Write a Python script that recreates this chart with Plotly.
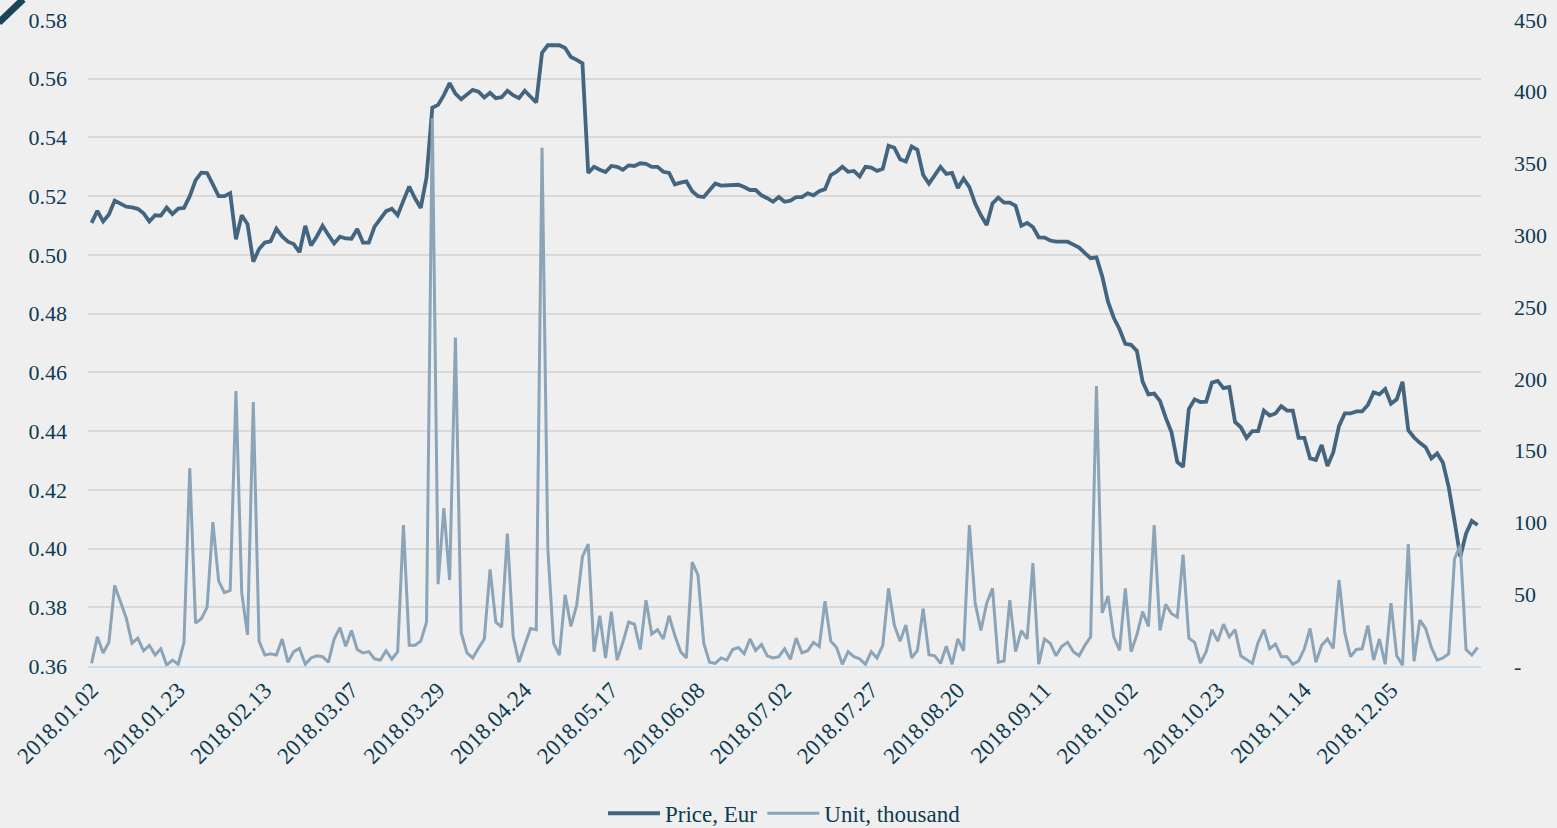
import plotly.graph_objects as go

tick_labels = ["2018.01.02", "2018.01.23", "2018.02.13", "2018.03.07", "2018.03.29",
               "2018.04.24", "2018.05.17", "2018.06.08", "2018.07.02", "2018.07.27",
               "2018.08.20", "2018.09.11", "2018.10.02", "2018.10.23", "2018.11.14",
               "2018.12.05"]

price_eur = [
    0.5109, 0.5150, 0.5114, 0.5138, 0.5185, 0.5175, 0.5164, 0.5162, 0.5157, 0.5142,
    0.5114, 0.5135, 0.5134, 0.5161, 0.5139, 0.5158, 0.5160, 0.5200, 0.5254, 0.5280,
    0.5279, 0.5240, 0.5200, 0.5200, 0.5210, 0.5053, 0.5135, 0.5105, 0.4977, 0.5020,
    0.5042, 0.5046, 0.5089, 0.5063, 0.5045, 0.5037, 0.5009, 0.5099, 0.5032, 0.5063,
    0.5099, 0.5068, 0.5039, 0.5062, 0.5056, 0.5055, 0.5088, 0.5042, 0.5042, 0.5096,
    0.5125, 0.5149, 0.5157, 0.5135, 0.5185, 0.5233, 0.5193, 0.5160, 0.5264, 0.5501,
    0.5511, 0.5544, 0.5585, 0.5549, 0.5530, 0.5547, 0.5562, 0.5556, 0.5536, 0.5552,
    0.5534, 0.5537, 0.5559, 0.5544, 0.5534, 0.5559, 0.5537, 0.5519, 0.5688, 0.5714,
    0.5714, 0.5714, 0.5705, 0.5674, 0.5664, 0.5652, 0.5279, 0.5300, 0.5290, 0.5282,
    0.5303, 0.5300, 0.5290, 0.5305, 0.5303, 0.5312, 0.5310, 0.5300, 0.5300, 0.5283,
    0.5279, 0.5240, 0.5246, 0.5250, 0.5217, 0.5200, 0.5197, 0.5221, 0.5243, 0.5236,
    0.5236, 0.5236, 0.5239, 0.5231, 0.5221, 0.5221, 0.5203, 0.5193, 0.5181, 0.5197,
    0.5181, 0.5185, 0.5197, 0.5197, 0.5210, 0.5203, 0.5217, 0.5224, 0.5272, 0.5283,
    0.5300, 0.5283, 0.5286, 0.5267, 0.5300, 0.5297, 0.5286, 0.5293, 0.5372, 0.5365,
    0.5326, 0.5318, 0.5369, 0.5358, 0.5272, 0.5243, 0.5269, 0.5300, 0.5276, 0.5279,
    0.5228, 0.5260, 0.5231, 0.5175, 0.5135, 0.5102, 0.5175, 0.5195, 0.5178, 0.5178,
    0.5167, 0.5099, 0.5109, 0.5095, 0.5060, 0.5059, 0.5049, 0.5045, 0.5045, 0.5045,
    0.5035, 0.5025, 0.5006, 0.4989, 0.4992, 0.4927, 0.4841, 0.4786, 0.4747, 0.4697,
    0.4694, 0.4673, 0.4568, 0.4525, 0.4528, 0.4503, 0.4446, 0.4396, 0.4295, 0.4278,
    0.4475, 0.4508, 0.4499, 0.4500, 0.4565, 0.4571, 0.4546, 0.4550, 0.4431, 0.4413,
    0.4377, 0.4400, 0.4400, 0.4470, 0.4453, 0.4460, 0.4485, 0.4470, 0.4470, 0.4377,
    0.4377, 0.4307, 0.4302, 0.4353, 0.4281, 0.4327, 0.4417, 0.4460, 0.4460, 0.4467,
    0.4467, 0.4489, 0.4532, 0.4525, 0.4543, 0.4493, 0.4508, 0.4568, 0.4403, 0.4378,
    0.4360, 0.4345, 0.4307, 0.4324, 0.4292, 0.4209, 0.4094, 0.3972, 0.4051, 0.4094,
    0.4080,
]

unit_thousand = [
    1.8, 20.3, 9.1, 16.5, 56.1, 45.2, 33.5, 15.9, 19.4, 10.6,
    14.4, 7.6, 12.0, 0.6, 4.1, 1.2, 16.5, 137.8, 30.0, 32.9,
    40.8, 100.2, 59.3, 51.1, 52.6, 191.5, 51.1, 21.7, 183.9, 17.3,
    7.6, 8.5, 7.6, 18.8, 2.6, 10.0, 12.3, 1.2, 5.6, 7.1,
    6.5, 2.6, 18.8, 26.7, 13.8, 24.7, 11.5, 9.1, 10.0, 5.0,
    4.1, 10.6, 4.7, 10.0, 98.1, 14.4, 14.4, 17.3, 30.6, 381.6,
    57.0, 109.9, 59.9, 228.8, 23.2, 9.1, 5.6, 12.3, 18.8, 67.3,
    30.6, 27.0, 92.2, 20.3, 2.6, 14.4, 26.1, 25.3, 361.0, 82.0,
    15.9, 7.6, 49.6, 27.6, 42.3, 76.1, 84.9, 10.0, 35.0, 5.6,
    37.9, 4.1, 16.5, 30.6, 29.1, 11.5, 45.8, 22.3, 25.3, 18.8,
    35.0, 21.2, 10.0, 5.6, 72.3, 63.5, 15.9, 2.6, 1.8, 5.6,
    4.1, 11.5, 12.9, 8.5, 18.8, 10.9, 15.0, 7.1, 5.6, 6.5,
    12.0, 4.7, 19.4, 9.1, 10.6, 16.5, 13.5, 45.2, 17.3, 12.9,
    1.2, 10.0, 6.5, 5.0, 1.2, 10.0, 5.6, 14.4, 54.1, 28.5,
    17.3, 28.5, 5.6, 10.9, 40.0, 7.9, 7.1, 1.8, 13.8, 1.2,
    18.8, 10.6, 98.1, 43.8, 24.7, 43.8, 54.1, 2.6, 3.5, 45.8,
    10.0, 24.7, 18.8, 71.7, 1.2, 18.8, 15.9, 7.1, 13.8, 16.5,
    10.0, 7.1, 14.4, 20.3, 195.1, 37.0, 48.8, 20.3, 10.9, 54.1,
    10.0, 21.7, 37.9, 27.6, 98.1, 24.7, 42.9, 36.4, 34.1, 77.6,
    19.4, 16.5, 2.1, 10.0, 25.3, 17.3, 29.1, 20.3, 25.3, 7.1,
    4.7, 1.8, 16.5, 25.3, 12.0, 15.3, 6.5, 6.5, 1.2, 3.5,
    12.0, 26.1, 2.6, 14.4, 18.8, 12.3, 59.9, 23.2, 6.5, 11.5,
    12.0, 28.2, 4.1, 18.8, 1.2, 43.8, 7.1, 0.6, 84.9, 3.2,
    32.0, 26.1, 12.9, 4.1, 5.6, 8.5, 74.6, 84.0, 11.5, 7.6,
    12.9,
]

label_every = 15
x_idx = list(range(len(price_eur)))
tick_pos = [i * label_every for i in range(len(tick_labels))]

TXT = "#0d3b52"
FONT = "Liberation Serif"

fig = go.Figure()
fig.add_trace(go.Scatter(
    x=x_idx, y=price_eur, mode="lines", name="Price, Eur",
    line=dict(color="#44657f", width=3.8), yaxis="y",
))
fig.add_trace(go.Scatter(
    x=x_idx, y=unit_thousand, mode="lines", name="Unit, thousand",
    line=dict(color="#8ba4b8", width=3), yaxis="y2",
))

unit_ticks = list(range(0, 451, 50))
unit_text = ["-"] + [str(v) for v in unit_ticks[1:]]

fig.update_layout(
    width=1557, height=828,
    margin=dict(l=88, r=76, t=20, b=162, autoexpand=False),
    paper_bgcolor="#efefef", plot_bgcolor="#efefef",
    font=dict(family=FONT, color=TXT, size=22),
    showlegend=True,
    legend=dict(orientation="h", x=0.5, xanchor="center", y=-0.228, yanchor="middle",
                font=dict(size=23, color=TXT, family=FONT), itemwidth=52,
                bgcolor="rgba(0,0,0,0)"),
    xaxis=dict(
        range=[-0.62, 240.59], tickmode="array", tickvals=tick_pos, ticktext=tick_labels,
        tickangle=-45, showgrid=False, zeroline=False, showline=True,
        linecolor="#c8ddee", linewidth=1.5, ticks="", automargin=False,
        tickfont=dict(size=23, color=TXT, family=FONT),
    ),
    yaxis=dict(
        range=[0.36, 0.58], dtick=0.02, tick0=0.36, tickformat=".2f",
        showgrid=True, gridcolor="#d9d9d9", gridwidth=1.5, zeroline=False,
        ticks="", ticklabelstandoff=20, automargin=False,
        tickfont=dict(size=22, color=TXT, family=FONT),
    ),
    yaxis2=dict(
        range=[0, 450], overlaying="y", side="right", tickmode="array",
        tickvals=unit_ticks, ticktext=unit_text, showgrid=False, zeroline=False,
        ticks="", ticklabelstandoff=32, automargin=False,
        tickfont=dict(size=22, color=TXT, family=FONT),
    ),
    shapes=[dict(type="line", xref="paper", yref="paper",
                 x0=-0.0640, y0=0.996, x1=-0.0465, y1=1.032,
                 line=dict(color="#1b4459", width=7))],
)

fig.write_html("out.html", config={"displayModeBar": False},
               post_script="document.body.style.margin='0px';document.body.style.overflow='hidden';")
